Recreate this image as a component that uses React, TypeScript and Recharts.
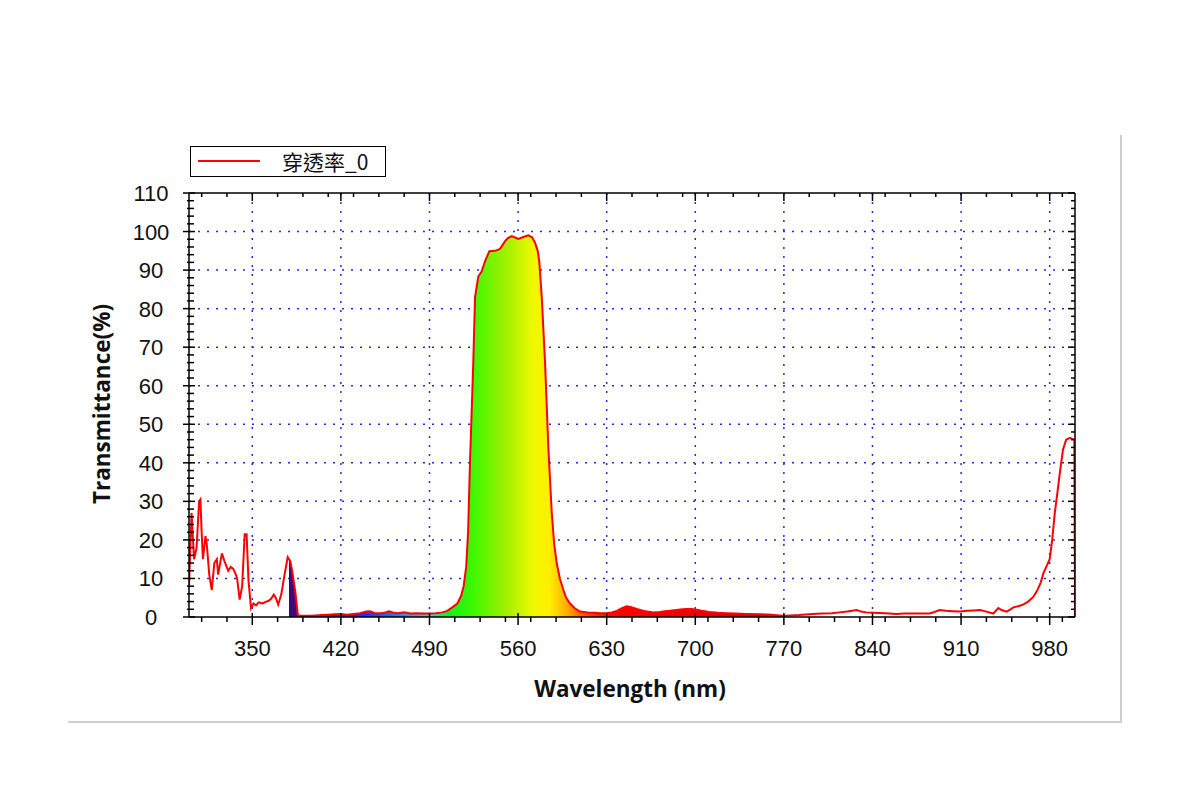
import { ComposedChart, Area, Line, XAxis, YAxis, CartesianGrid, Legend } from 'recharts';

// transmittance scan (nm / %)
const WAVELENGTH = [
  300, 302, 304, 306, 308, 309, 310, 311, 313, 314, 316, 318, 320, 322, 323, 326, 328, 331, 333, 335,
  337, 338, 340, 342, 344, 345.5, 347, 349, 351, 353, 355, 358, 361, 363, 365, 367, 368.5, 370.5, 373, 375.5,
  378, 380, 381.5, 384, 386, 388, 395, 400, 405, 410, 415, 420, 425, 430, 435, 440, 443, 447, 452, 455,
  458, 461, 465, 470, 475, 480, 485, 490, 495, 500, 504, 508, 512, 515, 517, 519, 520.5, 522, 523.5, 524.6,
  526, 528.6, 531.3, 533.9, 537.3, 541.8, 545.7, 549.7, 552, 555, 558, 560.2, 564.2, 568.1, 571, 573.4, 575.5, 576.8,
  578.7, 581.3, 583.9, 586.6, 588.5, 590.5, 593, 595.8, 598, 601, 605, 609, 615, 620, 625, 630, 634, 638, 642, 645.8,
  649, 653.7, 658, 662, 666.8, 672, 676, 680, 685, 690, 693.3, 697, 701, 705, 711, 718, 725, 732, 740, 751,
  760, 769, 775, 782, 793, 800, 808, 814, 820, 827.5, 831, 835, 840.7, 850, 859, 865, 872, 880, 885, 889,
  893, 898, 903, 909, 915, 920, 925, 930, 935.5, 938, 939.5, 942, 946, 949, 951.3, 955, 959, 963, 967, 970,
  973, 975, 978, 980, 982, 984, 986, 988, 990.5, 993, 996, 999.5, 1000,
];
const TRANSMITTANCE = [
  8, 27, 15, 18, 30, 30.5, 22, 15, 21, 19, 11, 7, 14, 15, 11, 16.5, 14.5, 12, 13, 12.5,
  11, 10, 4.5, 8, 21.5, 21.5, 9.5, 2.3, 3.5, 3, 3.8, 3.5, 4, 4.2, 4.8, 5.8, 5, 3.2, 6, 11,
  15.5, 14.5, 12, 6.5, 0.5, 0.3, 0.3, 0.4, 0.5, 0.6, 0.7, 0.8, 0.6, 0.8, 1.0, 1.4, 1.5, 1.0, 1.0, 1.2,
  1.5, 1.2, 1.0, 1.2, 0.9, 1.0, 0.9, 0.9, 1.0, 1.2, 1.6, 2.5, 3.5, 5.5, 8, 13, 22, 40, 55, 66,
  83, 88.4, 89.7, 92.3, 94.9, 95, 95.5, 97.5, 98.3, 98.8, 98.4, 98.1, 98.6, 99, 98.5, 97.1, 95, 92,
  83, 66, 44, 27, 19, 14, 10, 7, 5, 3.5, 2.2, 1.4, 1.2, 1.1, 1.0, 1.0, 1.2, 1.6, 2.3, 2.8,
  2.6, 2.1, 1.7, 1.4, 1.2, 1.3, 1.5, 1.6, 1.8, 2.0, 2.1, 2.1, 1.9, 1.6, 1.3, 1.1, 1.0, 0.9, 0.8, 0.7,
  0.6, 0.35, 0.4, 0.5, 0.8, 0.9, 1.0, 1.2, 1.4, 1.8, 1.4, 1.2, 1.1, 1.0, 0.8, 0.9, 0.9, 0.9, 0.9, 1.3,
  1.8, 1.6, 1.5, 1.4, 1.6, 1.7, 1.8, 1.4, 0.9, 1.8, 2.3, 1.8, 1.4, 2.0, 2.5, 2.8, 3.2, 4.0, 5.2, 6.8,
  9, 11.3, 13.5, 15, 20, 26.9, 32, 37.3, 43.4, 46, 46.5, 46, 0,
];
const SERIES_NAME = '穿透率_0';

const X_MAJOR = [350, 420, 490, 560, 630, 700, 770, 840, 910, 980];
const X_MINOR = [
  310, 330, 370, 390, 410, 430, 450, 470, 510, 530, 550, 570, 590, 610, 650,
  670, 690, 710, 730, 750, 790, 810, 830, 850, 870, 890, 930, 950, 970, 990,
];
const Y_MAJOR = [0, 10, 20, 30, 40, 50, 60, 70, 80, 90, 100, 110];
const Y_MINOR = [
  2, 4, 6, 8, 12, 14, 16, 18, 22, 24, 26, 28, 32, 34, 36, 38, 42, 44, 46, 48, 52, 54, 56, 58,
  62, 64, 66, 68, 72, 74, 76, 78, 82, 84, 86, 88, 92, 94, 96, 98, 102, 104, 106, 108,
];

const data = WAVELENGTH.map((nm, i) => ({ nm, t: TRANSMITTANCE[i] }));
const xTicks = [...X_MAJOR, ...X_MINOR].sort((a, b) => a - b);
const yTicks = [...Y_MAJOR, ...Y_MINOR].sort((a, b) => a - b);

// plot box (chart pixels)
const PL = 189;
const PR = 1075;
const PT = 193;
const PB = 617;

const TICK_FONT = "'Liberation Sans', Arial, sans-serif";
const TITLE_FONT = "'Open Sans', 'Noto Sans', sans-serif";

// fill colour by wavelength, clear outside the visible band
const SPECTRUM: [number, string, number][] = [
  [300, '#ffffff', 0],
  [379, '#ffffff', 0],
  [379, '#3a0878', 1],
  [388, '#3a0a80', 1],
  [400, '#3c10a0', 1],
  [420, '#2a1ad0', 1],
  [440, '#2030ff', 1],
  [460, '#2070f0', 1],
  [480, '#30b0f0', 1],
  [492, '#20e0c0', 1],
  [505, '#10f020', 1],
  [525, '#40f800', 1],
  [550, '#a0f000', 1],
  [572, '#f0f800', 1],
  [585, '#ffee00', 1],
  [598, '#ffb000', 1],
  [610, '#ff6000', 1],
  [625, '#ff2000', 1],
  [640, '#ff0000', 1],
  [700, '#ee0000', 1],
  [768, '#cc0000', 1],
  [768, '#ffffff', 0],
  [1000, '#ffffff', 0],
];

function BottomTick(props: any) {
  const { x, payload } = props;
  const major = X_MAJOR.includes(payload.value);
  return (
    <g>
      <line x1={x} x2={x} y1={major ? PB - 4 : PB} y2={major ? PB + 8 : PB + 5} stroke="#000" strokeWidth={1.5} />
      {major && (
        <text x={x} y={656} textAnchor="middle" fontFamily={TICK_FONT} fontSize={22} fill="#111">
          {payload.value}
        </text>
      )}
    </g>
  );
}

function TopTick(props: any) {
  const { x, payload } = props;
  const major = X_MAJOR.includes(payload.value);
  return <line x1={x} x2={x} y1={PT} y2={PT + (major ? 8 : 4)} stroke="#000" strokeWidth={1.5} />;
}

function LeftTick(props: any) {
  const { y, payload } = props;
  const major = Y_MAJOR.includes(payload.value);
  return (
    <g>
      <line x1={major ? PL - 6 : PL - 2} x2={major ? PL + 6 : PL + 5} y1={y} y2={y} stroke="#000" strokeWidth={1.5} />
      {major && (
        <text x={151} y={y + 8} textAnchor="middle" fontFamily={TICK_FONT} fontSize={22} fill="#111">
          {payload.value}
        </text>
      )}
    </g>
  );
}

function RightTick(props: any) {
  const { y, payload } = props;
  const major = Y_MAJOR.includes(payload.value);
  return <line x1={PR - (major ? 7 : 4)} x2={PR} y1={y} y2={y} stroke="#000" strokeWidth={1.5} />;
}

function LegendBox(props: any) {
  const items = (props.payload || []).filter((p: any) => p.type !== 'none');
  return (
    <div>
      {items.map((p: any) => (
        <div
          key={p.value}
          style={{
            position: 'relative',
            boxSizing: 'border-box',
            width: 196,
            height: 31,
            border: '1px solid #000',
            background: '#fff',
          }}
        >
          <svg width={70} height={29} style={{ position: 'absolute', left: 0, top: 0 }}>
            <line x1={7} x2={69} y1={14} y2={14} stroke={p.color} strokeWidth={2} />
          </svg>
          <span
            style={{
              position: 'absolute',
              left: 91,
              top: 0,
              lineHeight: '29px',
              fontSize: 21,
              fontFamily: "'Noto Sans CJK TC', 'Noto Sans CJK SC', sans-serif",
              color: '#111',
            }}
          >
            {p.value}
          </span>
        </div>
      ))}
    </div>
  );
}

export default function App() {
  return (
    <div style={{ position: 'absolute', left: 0, top: 0, width: 1200, height: 800, background: '#fff' }}>
      <div
        style={{
          position: 'absolute',
          left: 68,
          top: 135,
          width: 1052,
          height: 586,
          borderRight: '2px solid #cfcfcf',
          borderBottom: '2px solid #cfcfcf',
        }}
      />
      <div style={{ position: 'absolute', left: 0, top: 0 }}>
        <ComposedChart
          width={1200}
          height={800}
          data={data}
          margin={{ top: PT, right: 1200 - PR, bottom: 143, left: 129 }}
        >
          <defs>
            <linearGradient id="spectrum" x1="0" y1="0" x2="1" y2="0">
              {SPECTRUM.map(([nm, c, o], i) => (
                <stop key={i} offset={(nm - 300) / 700} stopColor={c} stopOpacity={o} />
              ))}
            </linearGradient>
          </defs>
          <CartesianGrid
            xAxisId="bottom"
            yAxisId="left"
            horizontalValues={Y_MAJOR.filter((v) => v > 0 && v < 110)}
            verticalValues={X_MAJOR}
            stroke="#2a2ad8"
            strokeWidth={1.5}
            strokeDasharray="2 7"
          />
          <XAxis
            xAxisId="bottom"
            dataKey="nm"
            type="number"
            domain={[300, 1000]}
            allowDataOverflow
            ticks={xTicks}
            interval={0}
            height={40}
            tickLine={false}
            axisLine={{ stroke: '#000', strokeWidth: 1.5 }}
            tick={(p: any) => <BottomTick {...p} />}
            label={{
              content: (p: any) => (
                <text
                  x={p.viewBox.x + p.viewBox.width / 2 - 2}
                  y={697}
                  textAnchor="middle"
                  fontFamily={TITLE_FONT}
                  fontWeight={700}
                  fontSize={22.5}
                  fill="#111"
                >
                  Wavelength (nm)
                </text>
              ),
            }}
          />
          <XAxis
            xAxisId="top"
            orientation="top"
            mirror
            dataKey="nm"
            type="number"
            domain={[300, 1000]}
            allowDataOverflow
            ticks={xTicks}
            interval={0}
            tickLine={false}
            axisLine={{ stroke: '#000', strokeWidth: 1.5 }}
            tick={(p: any) => <TopTick {...p} />}
          />
          <YAxis
            yAxisId="left"
            type="number"
            domain={[0, 110]}
            allowDataOverflow
            ticks={yTicks}
            interval={0}
            width={60}
            tickLine={false}
            axisLine={{ stroke: '#000', strokeWidth: 1.5 }}
            tick={(p: any) => <LeftTick {...p} />}
            label={{
              content: () => (
                <text
                  x={101}
                  y={404}
                  transform="rotate(-90 101 404)"
                  textAnchor="middle"
                  dominantBaseline="central"
                  fontFamily={TITLE_FONT}
                  fontWeight={700}
                  fontSize={22.5}
                  fill="#111"
                >
                  Transmittance(%)
                </text>
              ),
            }}
          />
          <YAxis
            yAxisId="right"
            orientation="right"
            mirror
            type="number"
            domain={[0, 110]}
            allowDataOverflow
            ticks={yTicks}
            interval={0}
            tickLine={false}
            axisLine={{ stroke: '#000', strokeWidth: 1.5 }}
            tick={(p: any) => <RightTick {...p} />}
          />
          <Legend
            layout="vertical"
            align="center"
            verticalAlign="middle"
            wrapperStyle={{ left: 190, top: 146, width: 196, height: 31 }}
            content={(p: any) => <LegendBox {...p} />}
          />
          <Area
            xAxisId="bottom"
            yAxisId="left"
            dataKey="t"
            type="linear"
            stroke="none"
            fill="url(#spectrum)"
            fillOpacity={1}
            legendType="none"
            isAnimationActive={false}
          />
          <Line
            xAxisId="top"
            yAxisId="right"
            dataKey="t"
            name={SERIES_NAME}
            type="linear"
            stroke="#ff0000"
            strokeWidth={2}
            dot={false}
            activeDot={false}
            isAnimationActive={false}
          />
        </ComposedChart>
      </div>
    </div>
  );
}
